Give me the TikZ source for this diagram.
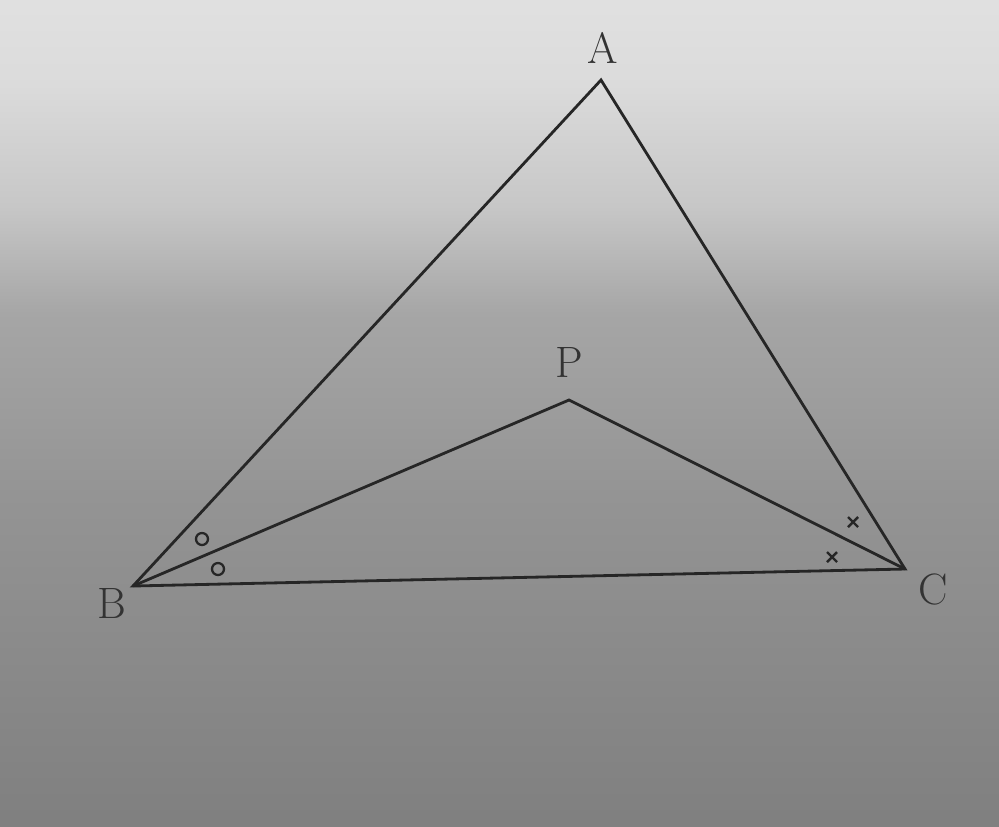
\documentclass[tikz,border=0pt]{standalone}
\usetikzlibrary{calc}
\pgfdeclareverticalshading{bgshade}{100bp}{
  color(0bp)=(black!50);
  color(25bp)=(black!50);
  color(45bp)=(black!42);
  color(56bp)=(black!35);
  color(62.5bp)=(black!22);
  color(70bp)=(black!14);
  color(75bp)=(black!12);
  color(100bp)=(black!12)}
\begin{document}
\begin{tikzpicture}[x=0.02cm,y=-0.02cm,
  edge/.style={line width=1.6pt,draw=black!85},
  lbl/.style={font=\fontsize{25}{30}\selectfont,text=black!80},
  circmark/.style={draw=black!85,line width=1.3pt},
  crossmark/.style={draw=black!85,line width=1.4pt}]
\shade[shading=bgshade] (0,0) rectangle (999,826);
\useasboundingbox (0,0) rectangle (999,826);
\coordinate (A) at (601,80);
\coordinate (B) at (133,586);
\coordinate (C) at (905,569);
\coordinate (P) at (569,400);
\draw[edge,line join=miter] (A) -- (B) -- (C) -- cycle;
\draw[edge] (B) -- (P) -- (C);
\node[lbl] (lA) at (603,48) {A};
\node[lbl] (lP) at (569,362) {P};
\node[lbl] (lB) at (112,603) {B};
\node[lbl] (lC) at (933,589) {C};
\draw[circmark] (202,539) circle (6);
\draw[circmark] (218,569) circle (6);
\draw[crossmark] (848,517) -- (858,527) (848,527) -- (858,517);
\draw[crossmark] (827,552) -- (837,562) (827,562) -- (837,552);
\end{tikzpicture}
\end{document}
